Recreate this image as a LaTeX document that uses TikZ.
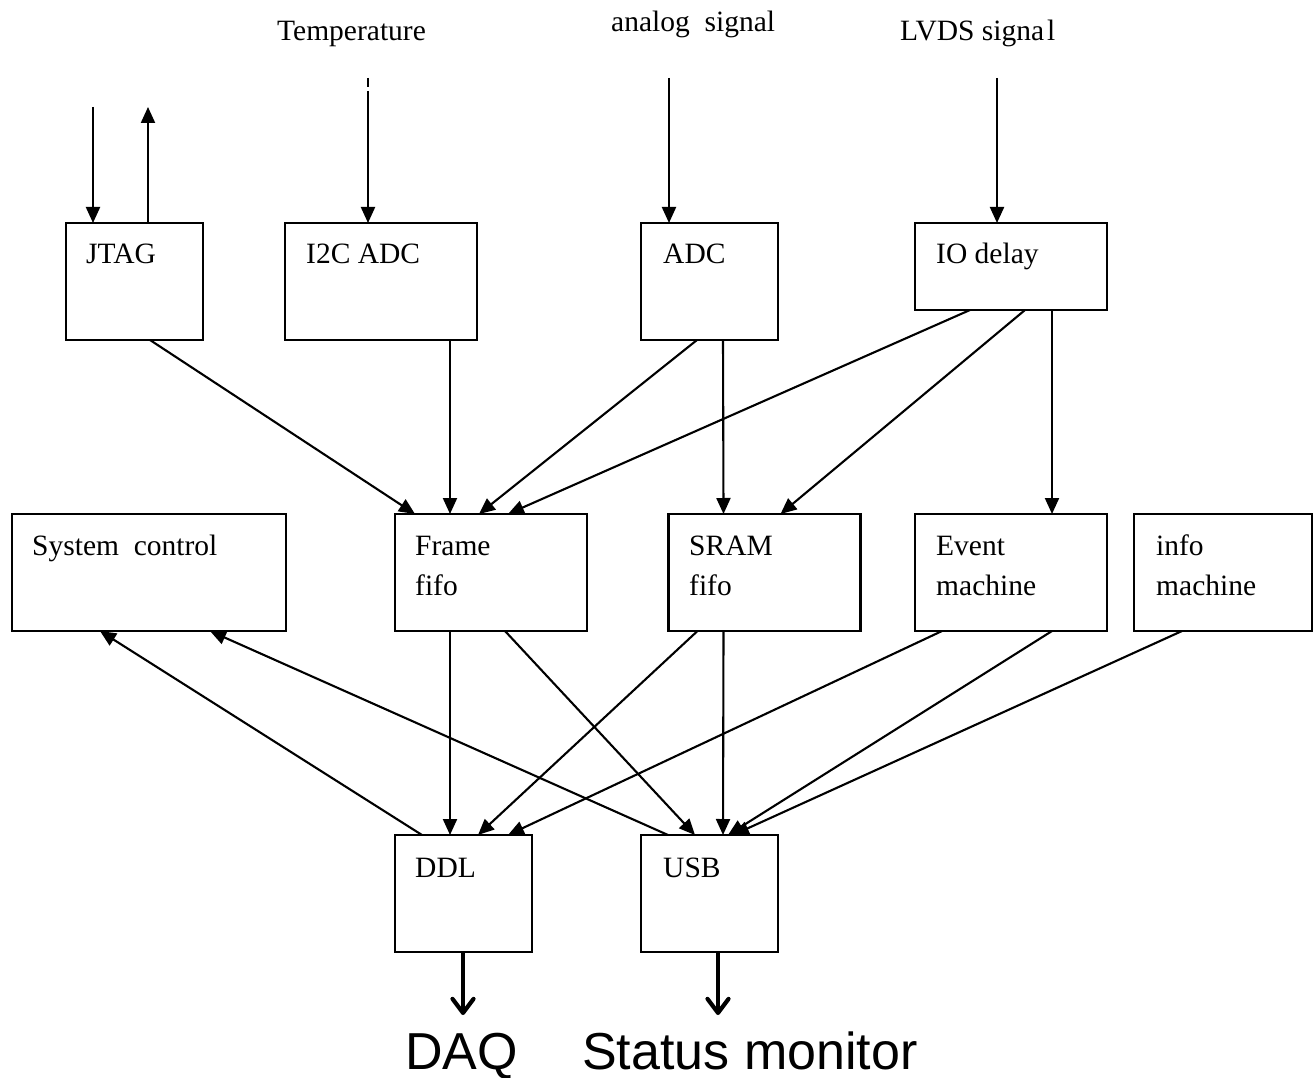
\documentclass[tikz,border=0pt]{standalone}
\usepackage{fontspec}
\setmainfont{Liberation Serif}
\newfontfamily\labelsans{Liberation Sans}
\usetikzlibrary{arrows.meta}

\begin{document}
\begin{tikzpicture}[x=1pt,y=-1pt,
  blk/.style={draw, line width=2.1pt, inner sep=0pt, outer sep=0pt, minimum height=117pt},
  narrow/.style={blk, minimum width=137pt},
  wide/.style={blk, minimum width=192pt},
  txt/.style={anchor=base west, inner sep=0pt, font=\fontsize{29.5pt}{36pt}\selectfont},
  flow/.style={line width=2.1pt, -{Triangle[width=14pt,length=16pt]}},
  outlink/.style={line width=4.2pt, -{Straight Barb[length=14pt,width=21pt,round]}},
  big/.style={anchor=base west, inner sep=0pt, font=\labelsans\fontsize{52pt}{60pt}\selectfont}]

% canvas
\useasboundingbox[fill=white] (0,0) rectangle (1314,1078);

% ---- blocks ----
\node[narrow] (jtag)  at (134.5,281.5) {};
\node[wide]   (i2c)   at (381,281.5) {};
\node[narrow] (adc)   at (709.5,281.5) {};
\node[wide, minimum height=87pt] (iod) at (1011,266.5) {};

\node[blk, minimum width=274pt] (sys) at (149,572.5) {};
\node[wide]   (frame) at (491,572.5) {};
\node[wide]   (sram)  at (764.5,572.5) {};
\node[wide]   (event) at (1011,572.5) {};
\node[blk, minimum width=178pt] (info) at (1223,572.5) {};

\node[narrow] (ddl) at (463.5,893.5) {};
\node[narrow] (usb) at (709.5,893.5) {};

% ---- block labels ----
\node[txt] (tJtag)  at (86,263)   {JTAG};
\node[txt] (tI2c)   at (306,263)  {I2C ADC};
\node[txt] (tAdc)   at (663,263)  {ADC};
\node[txt] (tIod)   at (936,263)  {IO delay};
\node[txt] (tSys)   at (32,555)   {System\hspace{0.25em} control};
\node[txt] (tFr1)   at (415,555)  {Frame};
\node[txt] (tFr2)   at (415,595)  {fifo};
\node[txt] (tSr1)   at (689,555)  {SRAM};
\node[txt] (tSr2)   at (689,595)  {fifo};
\node[txt] (tEv1)   at (936,555)  {Event};
\node[txt] (tEv2)   at (936,595)  {machine};
\node[txt] (tIn1)   at (1156,555) {info};
\node[txt] (tIn2)   at (1156,595) {machine};
\node[txt] (tDdl)   at (415,877)  {DDL};
\node[txt] (tUsb)   at (663,877)  {USB};

% ---- external signals ----
\node[txt] (tTemp)   at (277,41) {Temperature};
\node[txt] (tAnalog) at (611,32) {analog\hspace{0.25em} signal};
\node[txt] (tLvds)   at (900,41) {LVDS signa\kern3pt l};

\coordinate (jtagIn)  at (93,107);
\coordinate (jtagOut) at (148,107);
\coordinate (tempA)   at (368,78);
\coordinate (tempB)   at (368,87);
\coordinate (tempC)   at (368,91);
\coordinate (anaIn)   at (669,78);
\coordinate (lvdsIn)  at (997,78);

\draw[flow] (jtagIn) -- ([xshift=27pt]jtag.north west);
\draw[flow] ([xshift=82pt]jtag.north west) -- (jtagOut);
\draw[line width=2.1pt] (tempA) -- (tempB);
\draw[flow] (tempC) -- ([xshift=83pt]i2c.north west);
\draw[flow] (anaIn) -- ([xshift=28pt]adc.north west);
\draw[flow] (lvdsIn) -- ([xshift=82pt]iod.north west);

% ---- first stage -> buffers ----
\draw[flow] ([xshift=84pt]jtag.south west)  -- ([xshift=20pt]frame.north west);
\draw[flow] ([xshift=165pt]i2c.south west)  -- ([xshift=55pt]frame.north west);
\draw[flow] ([xshift=56pt]adc.south west)   -- ([xshift=84pt]frame.north west);
\draw[flow] ([xshift=55pt]iod.south west)   -- ([xshift=113pt]frame.north west);
\draw[flow] ([xshift=82pt]adc.south west)   -- ([xshift=55pt]sram.north west);
\draw[flow] ([xshift=110pt]iod.south west)  -- ([xshift=112pt]sram.north west);
\draw[flow] ([xshift=137pt]iod.south west)  -- ([xshift=137pt]event.north west);

% ---- buffers -> links ----
\draw[flow] ([xshift=55pt]frame.south west) -- ([xshift=55pt]ddl.north west);
\draw[flow] ([xshift=110pt]frame.south west) -- ([xshift=54pt]usb.north west);
\draw[flow] ([xshift=29pt]sram.south west)  -- ([xshift=83pt]ddl.north west);
\draw[flow] ([xshift=55pt]sram.south west)  -- ([xshift=82pt]usb.north west);
\draw[flow] ([xshift=27pt]event.south west) -- ([xshift=113pt]ddl.north west);
\draw[flow] ([xshift=137pt]event.south west) -- ([xshift=87pt]usb.north west);
\draw[flow] ([xshift=48pt]info.south west)  -- ([xshift=92pt]usb.north west);

% ---- links -> system control ----
\draw[flow] ([xshift=27pt]ddl.north west) -- ([xshift=88pt]sys.south west);
\draw[flow] ([xshift=27pt]usb.north west) -- ([xshift=198pt]sys.south west);

% ---- outputs ----
\coordinate (daqOut) at (463,1015);
\coordinate (monOut) at (718,1015);
\draw[outlink] ([xshift=68pt]ddl.south west) -- (daqOut);
\draw[outlink] ([xshift=77pt]usb.south west) -- (monOut);

\node[big] (tDaq) at (405,1069) {DAQ};
\node[big] (tMon) at (582,1069) {Status monitor};

\end{tikzpicture}
\end{document}
